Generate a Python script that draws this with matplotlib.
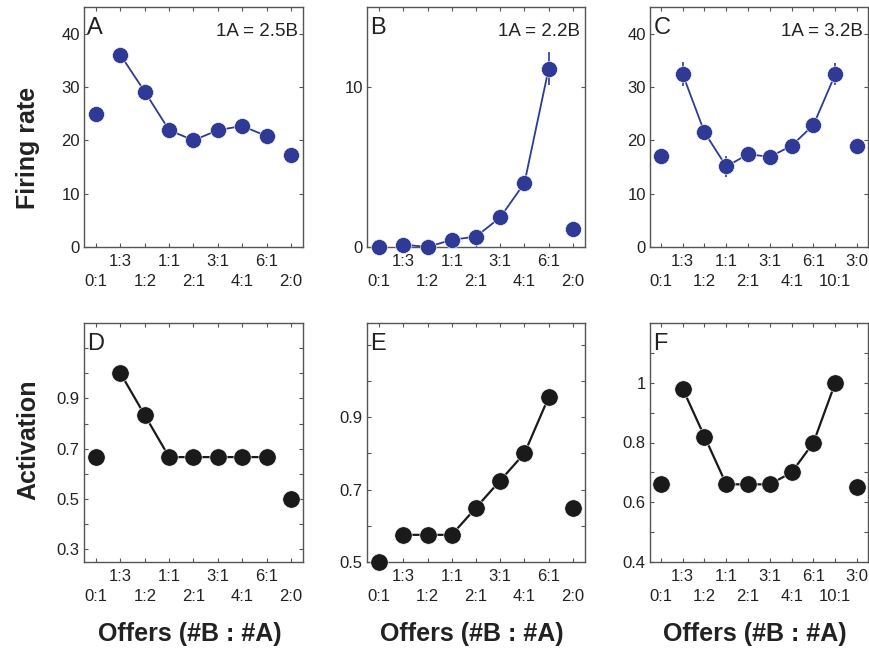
import matplotlib
matplotlib.use("Agg")
import matplotlib.pyplot as plt

plt.rcParams["font.family"] = ["Liberation Sans", "DejaVu Sans"]

# offer types (#B : #A)
offers_ab = ["0:1", "1:3", "1:2", "1:1", "2:1", "3:1", "4:1", "6:1", "2:0"]
offers_c = ["0:1", "1:3", "1:2", "1:1", "2:1", "3:1", "4:1", "6:1", "10:1", "3:0"]

# top row: neuronal firing rates (sp/s)
rate_a = [24.9, 36.0, 29.1, 21.9, 20.0, 21.9, 22.7, 20.8, 17.3]
rate_b = [0.0, 0.15, 0.0, 0.45, 0.65, 1.85, 4.0, 11.15, 1.15]
err_b = [0, 0, 0, 0, 0, 0, 0, 1.05, 0]
rate_c = [17.1, 32.4, 21.5, 15.1, 17.4, 16.9, 19.0, 22.9, 32.4, 18.9]
err_c = [0, 2.2, 1.4, 1.9, 0.6, 0, 0, 0.6, 2.1, 0]

# bottom row: model activation
act_d = [0.667, 1.0, 0.833, 0.667, 0.667, 0.667, 0.667, 0.667, 0.5]
act_e = [0.5, 0.575, 0.575, 0.575, 0.65, 0.725, 0.80, 0.955, 0.65]
act_f = [0.66, 0.98, 0.82, 0.66, 0.66, 0.66, 0.70, 0.80, 1.0, 0.65]

ratios = ["1A = 2.5B", "1A = 2.2B", "1A = 3.2B"]
letters = ["A", "B", "C", "D", "E", "F"]

blue = "#2E3A96"
black = "#1a1a1a"
spine_col = "#555555"
text_col = "#222222"

W, H = 870, 656
fig = plt.figure(figsize=(W / 100, H / 100), dpi=100)


def px_axes(l, t, r, b):
    return fig.add_axes([l / W, 1 - b / H, (r - l) / W, (b - t) / H])


lefts = [84, 367, 650]
rights = [303, 585, 868]
axes_top = [px_axes(l, 7, r, 247) for l, r in zip(lefts, rights)]
axes_bot = [px_axes(l, 323, r, 562) for l, r in zip(lefts, rights)]


def style(ax, labels, ylim, yticks, ylabels, all_yticks=None):
    n = len(labels)
    xs = list(range(1, n + 1))
    ax.set_xlim(0.5, n + 0.5)
    ax.set_ylim(*ylim)
    # alternate offers: odd positions on the lower row, even positions on the upper row
    ax.set_xticks(xs[0::2], labels[0::2])
    ax.set_xticks(xs[1::2], labels[1::2], minor=True)
    ticks = all_yticks if all_yticks is not None else yticks
    ax.set_yticks(ticks)
    ax.set_yticklabels([ylabels[yticks.index(t)] if t in yticks else "" for t in ticks])
    for which in ("major", "minor"):
        ax.tick_params(which=which, direction="in", top=True, right=True, length=3,
                       width=0.8, color=spine_col, labelsize=12, labelcolor=text_col)
    ax.tick_params(axis="x", which="major", pad=19.5)
    ax.tick_params(axis="x", which="minor", pad=5)
    ax.tick_params(axis="y", pad=3)
    for s in ax.spines.values():
        s.set_color(spine_col)
        s.set_linewidth(1.0)
    return xs


def plot_series(ax, xs, vals, color, ms, lw, err=None):
    inner = slice(1, len(vals) - 1)
    ax.plot(xs[inner], vals[inner], color=color, lw=lw, zorder=2)
    if err is not None:
        ax.errorbar(xs, vals, yerr=err, fmt="none", ecolor=color, elinewidth=1.2,
                    capsize=0, zorder=2)
    ax.plot(xs, vals, "o", color=color, ms=ms, mec="white", mew=0.4, zorder=3,
            clip_on=False)


# top row
xs = style(axes_top[0], offers_ab, (0, 45), [0, 10, 20, 30, 40], ["0", "10", "20", "30", "40"])
plot_series(axes_top[0], xs, rate_a, blue, 11.5, 1.3)
xs = style(axes_top[1], offers_ab, (0, 15), [0, 10], ["0", "10"])
plot_series(axes_top[1], xs, rate_b, blue, 11.5, 1.3, err_b)
xs = style(axes_top[2], offers_c, (0, 45), [0, 10, 20, 30, 40], ["0", "10", "20", "30", "40"])
plot_series(axes_top[2], xs, rate_c, blue, 11.5, 1.3, err_c)

# bottom row
xs = style(axes_bot[0], offers_ab, (0.25, 1.2), [0.3, 0.5, 0.7, 0.9],
           ["0.3", "0.5", "0.7", "0.9"],
           all_yticks=[0.3, 0.4, 0.5, 0.6, 0.7, 0.8, 0.9, 1.0, 1.1])
plot_series(axes_bot[0], xs, act_d, black, 12.5, 1.6)
xs = style(axes_bot[1], offers_ab, (0.5, 1.16), [0.5, 0.7, 0.9],
           ["0.5", "0.7", "0.9"],
           all_yticks=[0.5, 0.6, 0.7, 0.8, 0.9, 1.0, 1.1])
plot_series(axes_bot[1], xs, act_e, black, 12.5, 1.6)
xs = style(axes_bot[2], offers_c, (0.4, 1.2), [0.4, 0.6, 0.8, 1.0],
           ["0.4", "0.6", "0.8", "1"],
           all_yticks=[0.4, 0.5, 0.6, 0.7, 0.8, 0.9, 1.0, 1.1])
plot_series(axes_bot[2], xs, act_f, black, 12.5, 1.6)

# panel letters and ratio annotations
for ax, letter in zip(axes_top + axes_bot, letters):
    ax.text(0.015, 0.96, letter, transform=ax.transAxes, ha="left", va="top",
            fontsize=17, color=text_col)
for ax, r in zip(axes_top, ratios):
    ax.text(0.975, 0.935, r, transform=ax.transAxes, ha="right", va="top",
            fontsize=13.5, color=text_col)

# axis titles
fig.text(28 / W, 1 - 148 / H, "Firing rate", rotation=90, ha="center", va="center",
         fontsize=18, fontweight="bold", color=text_col)
fig.text(28 / W, 1 - 440 / H, "Activation", rotation=90, ha="center", va="center",
         fontsize=18, fontweight="bold", color=text_col)
for l, r in zip(lefts, rights):
    fig.text((l + r) / 2 / W - 4 / W, 1 - 634 / H, "Offers (#B : #A)", ha="center",
             va="center", fontsize=18, fontweight="bold", color=text_col)

fig.savefig("out.png", dpi=100)
